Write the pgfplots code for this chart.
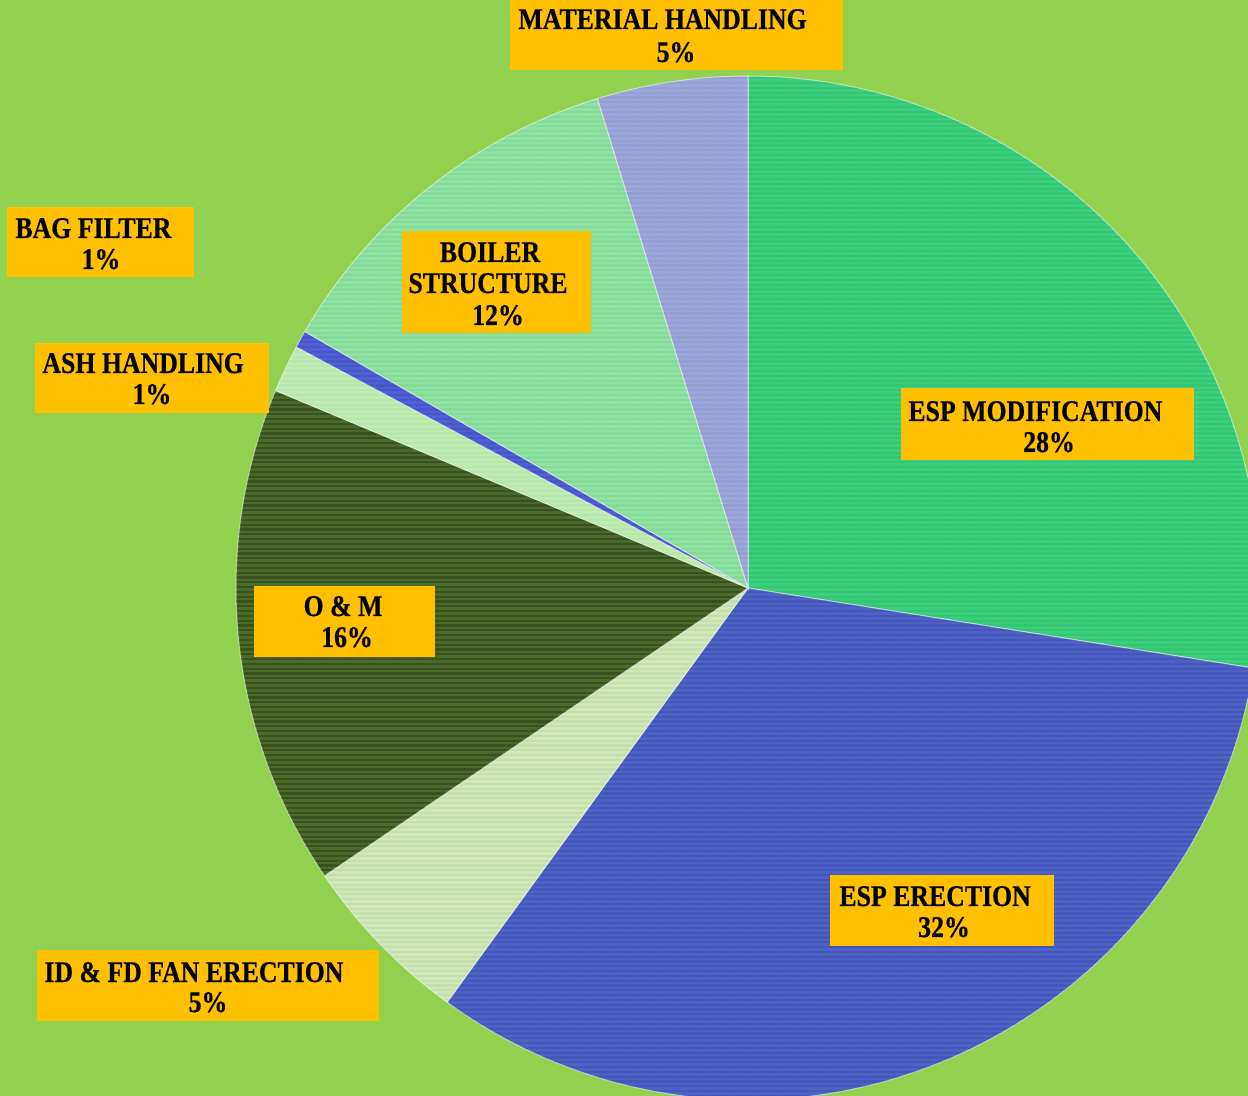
\documentclass[border=0pt]{standalone}
\usepackage{fontspec}
\setmainfont{Liberation Serif}[FakeStretch=0.86, BoldFeatures={FakeBold=0.5}]
\usepackage{pgfplots}
\usepackage{pgfplotstable}
\pgfplotsset{compat=1.18}
\usetikzlibrary{patterns.meta}

\definecolor{bggreen}{HTML}{92D050}
\definecolor{lblorange}{HTML}{FFC000}
\definecolor{espmodA}{HTML}{3BD07E}
\definecolor{espmodB}{HTML}{25AE62}
\definecolor{esperA}{HTML}{4E62C2}
\definecolor{esperB}{HTML}{2E3CB0}
\definecolor{idfdA}{HTML}{CFE8B6}
\definecolor{idfdB}{HTML}{AEC89A}
\definecolor{omA}{HTML}{4A6A28}
\definecolor{omB}{HTML}{121A0A}
\definecolor{ashA}{HTML}{C0ECB2}
\definecolor{ashB}{HTML}{A2DA98}
\definecolor{bagA}{HTML}{5060D4}
\definecolor{bagB}{HTML}{3040B0}
\definecolor{boilA}{HTML}{8EE2A2}
\definecolor{boilB}{HTML}{72CA88}
\definecolor{matA}{HTML}{9CA6DE}
\definecolor{matB}{HTML}{8592A6}

\pgfplotstableread{
value base stripe
27.5 espmodA espmodB
32.5 esperA esperB
5.5 idfdA idfdB
15.8 omA omB
1.5 ashA ashB
0.55 bagA bagB
11.9 boilA boilB
4.75 matA matB
}\piedata

\newcommand\lf{\fontsize{15bp}{17bp}\selectfont\bfseries}

\begin{document}
\begin{tikzpicture}
\begin{axis}[
  scale only axis, width=624bp, height=548bp,
  xmin=0, xmax=1248, ymin=0, ymax=1096,
  axis lines=none, ticks=none,
  axis background/.style={fill=bggreen},
  clip=true,
]
\def\cum{0}
\pgfplotsforeachungrouped \i in {0,...,7}{%
  \pgfplotstablegetelem{\i}{value}\of\piedata \let\v=\pgfplotsretval
  \pgfplotstablegetelem{\i}{base}\of\piedata \let\ca=\pgfplotsretval
  \pgfplotstablegetelem{\i}{stripe}\of\piedata \let\cb=\pgfplotsretval
  \pgfmathsetmacro\astart{90-3.6*\cum}%
  \pgfmathsetmacro\cum{\cum+\v}%
  \pgfmathsetmacro\aend{90-3.6*\cum}%
  \edef\wedge{\noexpand\addplot[draw=white, draw opacity=0.3, line width=0.5bp,
     preaction={fill=\ca},
     pattern={Lines[angle=0,distance=2.4bp,line width=1.1bp]}, pattern color=\cb,
     domain=\aend:\astart, samples=90]
     ({748+512*cos(x)},{508+512*sin(x)}) -- (axis cs:748,508) -- cycle;}%
  \wedge
}

% labels
\fill[lblorange] (axis cs:510,1099) rectangle (axis cs:843,1026);
\node[anchor=base west, inner sep=0, font=\lf] at (axis cs:518,1067) {MATERIAL HANDLING};
\node[anchor=base, inner sep=0, font=\lf] at (axis cs:676,1034) {5\%};

\fill[lblorange] (axis cs:7,889) rectangle (axis cs:194,819);
\node[anchor=base west, inner sep=0, font=\lf] at (axis cs:15,858) {BAG FILTER};
\node[anchor=base, inner sep=0, font=\lf] at (axis cs:101,827) {1\%};

\fill[lblorange] (axis cs:35,753) rectangle (axis cs:269,683);
\node[anchor=base west, inner sep=0, font=\lf] at (axis cs:42,723) {ASH HANDLING};
\node[anchor=base, inner sep=0, font=\lf] at (axis cs:152,692) {1\%};

\fill[lblorange] (axis cs:402,865) rectangle (axis cs:591,763);
\node[anchor=base, inner sep=0, font=\lf] at (axis cs:490,834) {BOILER};
\node[anchor=base, inner sep=0, font=\lf] at (axis cs:488,803) {STRUCTURE};
\node[anchor=base, inner sep=0, font=\lf] at (axis cs:498,771) {12\%};

\fill[lblorange] (axis cs:901,708) rectangle (axis cs:1194,636);
\node[anchor=base west, inner sep=0, font=\lf] at (axis cs:908,675) {ESP MODIFICATION};
\node[anchor=base, inner sep=0, font=\lf] at (axis cs:1049,644) {28\%};

\fill[lblorange] (axis cs:254,510) rectangle (axis cs:435,439);
\node[anchor=base, inner sep=0, font=\lf] at (axis cs:343,480) {O \& M};
\node[anchor=base, inner sep=0, font=\lf] at (axis cs:347,449) {16\%};

\fill[lblorange] (axis cs:830,221) rectangle (axis cs:1054,150);
\node[anchor=base west, inner sep=0, font=\lf] at (axis cs:839,190) {ESP ERECTION};
\node[anchor=base, inner sep=0, font=\lf] at (axis cs:944,159) {32\%};

\fill[lblorange] (axis cs:37,146) rectangle (axis cs:379,75);
\node[anchor=base west, inner sep=0, font=\lf] at (axis cs:44,114) {ID \& FD FAN ERECTION};
\node[anchor=base, inner sep=0, font=\lf] at (axis cs:208,84) {5\%};
\end{axis}
\pgfresetboundingbox
\path[use as bounding box] (current axis.south west) rectangle (current axis.north east);
\end{tikzpicture}
\end{document}
